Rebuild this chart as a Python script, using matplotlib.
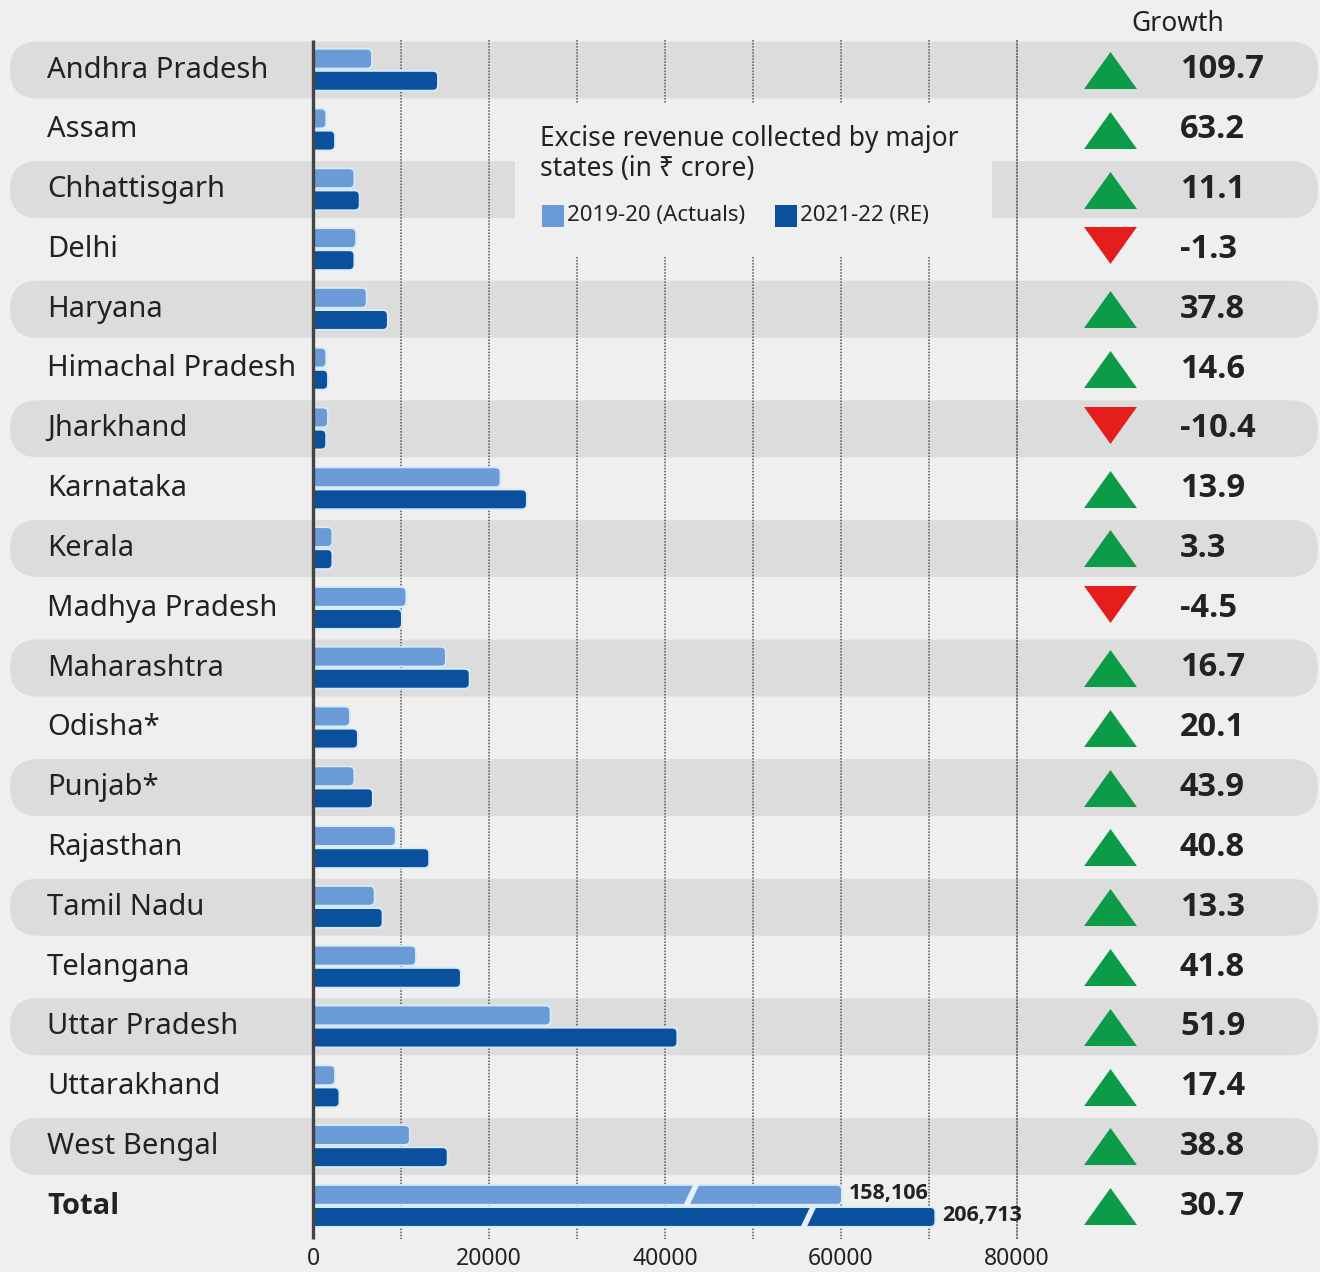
import matplotlib
matplotlib.use('Agg')
import matplotlib.pyplot as plt
from matplotlib.patches import FancyBboxPatch, Rectangle
from matplotlib import font_manager

# Excise revenue by state, in Rs crore
states = ['Andhra Pradesh', 'Assam', 'Chhattisgarh', 'Delhi', 'Haryana', 'Himachal Pradesh',
          'Jharkhand', 'Karnataka', 'Kerala', 'Madhya Pradesh', 'Maharashtra', 'Odisha*',
          'Punjab*', 'Rajasthan', 'Tamil Nadu', 'Telangana', 'Uttar Pradesh', 'Uttarakhand',
          'West Bengal']
actual_2019 = [6700, 1500, 4700, 4900, 6100, 1500, 1700, 21300, 2200, 10600, 15100, 4200,
               4700, 9400, 7000, 11700, 27000, 2500, 11000]
re_2021 = [14200, 2500, 5300, 4700, 8500, 1700, 1500, 24300, 2200, 10100, 17800, 5100,
           6800, 13200, 7900, 16800, 41400, 3000, 15300]
growth = [109.7, 63.2, 11.1, -1.3, 37.8, 14.6, -10.4, 13.9, 3.3, -4.5, 16.7, 20.1, 43.9,
          40.8, 13.3, 41.8, 51.9, 17.4, 38.8]
total_values = [158106, 206713]
total_growth = 30.7
x_ticks = [0, 20000, 40000, 60000, 80000]

# broken-axis trick for the total row: part of the bar is cut out
total_cut = [98000, 136000]
total_break = [43000, 56300]

BG = '#efefef'
BAND = '#dcdcdc'
LIGHT = '#6b9bd6'
DARK = '#0b509c'
EDGE = '#d6ebf8'
GREEN = '#0c9b47'
RED = '#e41d1d'
TXT = '#222222'
FONT = 'Noto Sans'

# pick a family that really has a bold face
bold_fams = [f.name for f in font_manager.fontManager.ttflist if f.weight in (700, 'bold')]
BOLD = next((f for f in ['Noto Sans', 'Open Sans', 'Roboto', 'Lato', 'DejaVu Sans'] if f in bold_fams),
            'DejaVu Sans')

W, H = 1320, 1272
X0_PX, PX_PER_K = 313, 8.8
ROW0_PX, ROW_PX = 70, 59.8

fig = plt.figure(figsize=(W / 100, H / 100), dpi=100, facecolor=BG)

# background layer in pixel coordinates
bg = fig.add_axes([0, 0, 1, 1])
bg.set_xlim(0, W)
bg.set_ylim(H, 0)
bg.axis('off')
bg.set_facecolor(BG)

# data layer for the bars
ax = fig.add_axes([0, 0, 1, 1], zorder=2)
ax.patch.set_alpha(0)
ax.set_xlim(-X0_PX / PX_PER_K * 1000, (W - X0_PX) / PX_PER_K * 1000)
ax.set_ylim((H - ROW0_PX) / ROW_PX, -ROW0_PX / ROW_PX)
ax.axis('off')

n_rows = len(states) + 1
row_px = [ROW0_PX + i * ROW_PX for i in range(n_rows)]

# alternating rounded bands
for i in range(0, len(states), 2):
    bg.add_patch(FancyBboxPatch((10, row_px[i] - 28.5), 1308, 57,
                                boxstyle='round,pad=0,rounding_size=28',
                                fc=BAND, ec='none', zorder=0))

# grid lines
for g in range(10000, 80001, 10000):
    ax.plot([g, g], [-0.5, n_rows - 0.45], color='#555555', lw=1.1,
            dashes=(1, 1) if g < 80000 else (1.5, 0.6), zorder=1)

# legend box covers the grid
ax.add_patch(Rectangle((515, 104), 477, 152, transform=bg.transData,
                       fc=BG, ec='none', zorder=1.5))

# y-axis line
ax.plot([0, 0], [-0.5, n_rows - 0.45], color='#444444', lw=2.4, zorder=4, solid_capstyle='butt')

r_x = 5 / PX_PER_K * 1000
aspect = (5 / ROW_PX) / r_x
bar_h = 0.33
clip = Rectangle((0, -5), 1e6, 50, transform=ax.transData)


def draw_bar(y, v, color):
    # rounded on both sides, left side clipped away at zero
    p = FancyBboxPatch((-2 * r_x, y - bar_h / 2), v + 2 * r_x, bar_h,
                       boxstyle=f'round,pad=0,rounding_size={r_x}',
                       mutation_aspect=aspect, fc=color, ec=EDGE, lw=1.3, zorder=3)
    ax.add_patch(p)
    p.set_clip_path(clip)


for i, (a, b) in enumerate(zip(actual_2019, re_2021)):
    draw_bar(i - 0.19, a, LIGHT)
    draw_bar(i + 0.18, b, DARK)

# total row with broken bars
ti = len(states)
for k, (val, cut, brk, col) in enumerate(zip(total_values, total_cut, total_break,
                                              [LIGHT, DARK])):
    y = ti - 0.19 + k * 0.37
    draw_bar(y, val - cut, col)
    ax.plot([brk - 600, brk + 600], [y + bar_h / 2 + 0.02, y - bar_h / 2 - 0.02],
            color='#e4f1fa', lw=4, zorder=3.5, solid_capstyle='butt')
    ax.text(val - cut + 800, y - 0.02, f'{val:,}', fontsize=15.5, fontweight='bold',
            family=BOLD, color=TXT, ha='left', va='center', zorder=5)

# state labels
for i, s in enumerate(states):
    bg.text(47, row_px[i], s, fontsize=21, family=FONT, color=TXT, va='center', ha='left')
bg.text(47, row_px[ti], 'Total', fontsize=21, family=BOLD, fontweight='bold', color=TXT,
        va='center', ha='left')

# flattened triangles
tri_up = [(-1, -0.7), (1, -0.7), (0, 0.7)]
tri_dn = [(-1, 0.7), (1, 0.7), (0, -0.7)]

# growth column
bg.text(1178, 24, 'Growth', fontsize=19, family=FONT, color=TXT, ha='center', va='center')
for i, g in enumerate(growth + [total_growth]):
    up = g >= 0
    bg.scatter(1110, row_px[i] + (0 if up else -4), marker=tri_up if up else tri_dn, s=1450,
               color=GREEN if up else RED, linewidths=0, zorder=3)
    bg.text(1180, row_px[i], f'{g}', fontsize=23.5, fontweight='bold', family=BOLD, color=TXT,
            ha='left', va='center')

# x tick labels
for t in x_ticks:
    ax.text(t, ti + 0.88, f'{t}', fontsize=16.5, family=FONT, color=TXT, ha='center', va='center')

# legend (drawn on the top layer, over the covering box)
ax.text(540, 154, 'Excise revenue collected by major\nstates (in \u20b9 crore)', fontsize=19,
        family=FONT, color=TXT, ha='left', va='center', linespacing=1.12,
        transform=bg.transData, zorder=6)
ax.add_patch(Rectangle((542, 205), 22, 22, fc=LIGHT, ec='none', transform=bg.transData, zorder=6))
ax.text(567, 216, '2019-20 (Actuals)', fontsize=16, family=FONT, color=TXT, ha='left',
        va='center', transform=bg.transData, zorder=6)
ax.add_patch(Rectangle((775, 205), 22, 22, fc=DARK, ec='none', transform=bg.transData, zorder=6))
ax.text(800, 216, '2021-22 (RE)', fontsize=16, family=FONT, color=TXT, ha='left', va='center',
        transform=bg.transData, zorder=6)

fig.savefig('out.png', dpi=100, facecolor=BG)
